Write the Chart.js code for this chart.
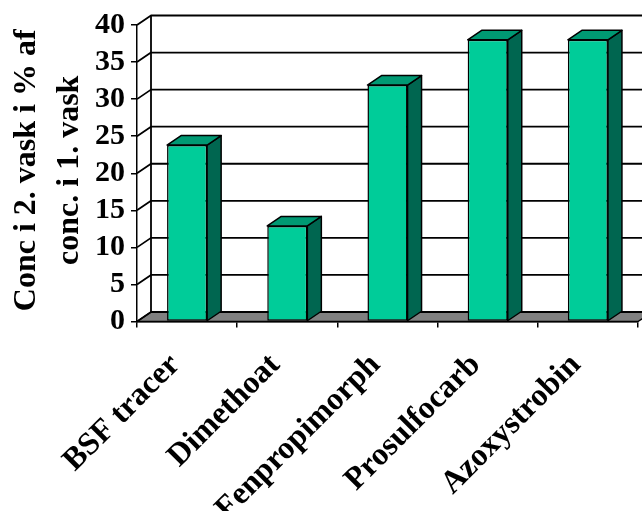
<!DOCTYPE html>
<html>
<head>
<meta charset="utf-8">
<script src="https://cdn.jsdelivr.net/npm/chart.js@4.4.1/dist/chart.umd.min.js"></script>
<style>
  html, body { margin: 0; padding: 0; background: #fff; }
  canvas { display: block; }
</style>
</head>
<body>
<canvas id="chart" width="642" height="511"></canvas>
<script>
// Data
const categories = ['BSF tracer', 'Dimethoat', 'Fenpropimorph', 'Prosulfocarb', 'Azoxystrobin'];
const ratioValues = [23.8, 12.9, 31.9, 38.0, 38.0];
const yTickValues = [0, 5, 10, 15, 20, 25, 30, 35, 40];
const yTitleLines = ['Conc i 2. vask i % af', 'conc. i 1. vask'];

// Styling
const SERIF = '"Liberation Serif", "Times New Roman", serif';
const DEPTH = { dx: 14, dy: -9.5 };
const FACE = '#00cc99';
const TOP_FACE = '#009973';
const SIDE_FACE = '#006650';
const FLOOR = '#808080';
const LINE = '#000';

// Draws the 3D box (back wall, side wall, floor) and the extra bar faces
const box3d = {
  id: 'box3d',
  beforeDraw(chart) {
    const { ctx, chartArea: a, scales: { y } } = chart;
    const { dx, dy } = DEPTH;
    ctx.save();
    ctx.lineJoin = 'round';

    // floor
    ctx.fillStyle = FLOOR;
    ctx.beginPath();
    ctx.moveTo(a.left, a.bottom);
    ctx.lineTo(a.right, a.bottom);
    ctx.lineTo(a.right + dx, a.bottom + dy);
    ctx.lineTo(a.left + dx, a.bottom + dy);
    ctx.closePath();
    ctx.fill();
    ctx.strokeStyle = LINE;
    ctx.lineWidth = 1.5;
    ctx.stroke();

    // back-wall gridlines and side-wall diagonals
    ctx.lineWidth = 1.8;
    y.ticks.forEach(t => {
      const py = y.getPixelForValue(t.value);
      ctx.beginPath();
      ctx.moveTo(a.left, py);
      ctx.lineTo(a.left + dx, py + dy);
      ctx.lineTo(a.right + dx, py + dy);
      ctx.stroke();
    });

    // back-wall left edge
    ctx.beginPath();
    ctx.moveTo(a.left + dx, a.top + dy);
    ctx.lineTo(a.left + dx, a.bottom + dy);
    ctx.stroke();
    ctx.restore();
  },
  afterDatasetsDraw(chart) {
    const { ctx } = chart;
    const { dx, dy } = DEPTH;
    ctx.save();
    ctx.lineJoin = 'round';
    ctx.strokeStyle = LINE;
    ctx.lineWidth = 1.5;
    chart.getDatasetMeta(0).data.forEach(bar => {
      const { x, y, base, width } = bar.getProps(['x', 'y', 'base', 'width'], true);
      const l = x - width / 2, r = x + width / 2;
      // side face
      ctx.fillStyle = SIDE_FACE;
      ctx.beginPath();
      ctx.moveTo(r, y);
      ctx.lineTo(r + dx, y + dy);
      ctx.lineTo(r + dx, base + dy);
      ctx.lineTo(r, base);
      ctx.closePath();
      ctx.fill();
      ctx.stroke();
      // top face
      ctx.fillStyle = TOP_FACE;
      ctx.beginPath();
      ctx.moveTo(l, y);
      ctx.lineTo(l + dx, y + dy);
      ctx.lineTo(r + dx, y + dy);
      ctx.lineTo(r, y);
      ctx.closePath();
      ctx.fill();
      ctx.stroke();
    });
    ctx.restore();
  },
  afterDraw(chart) {
    const { ctx, chartArea: a } = chart;
    const cy = (a.top + a.bottom) / 2 - 3;
    ctx.save();
    ctx.fillStyle = '#000';
    ctx.font = 'bold 32px ' + SERIF;
    ctx.textAlign = 'center';
    ctx.textBaseline = 'alphabetic';
    const baselines = [34.5, 78];
    yTitleLines.forEach((line, i) => {
      ctx.save();
      ctx.translate(baselines[i], cy);
      ctx.rotate(-Math.PI / 2);
      ctx.fillText(line, 0, 0);
      ctx.restore();
    });
    ctx.restore();
  }
};

new Chart(document.getElementById('chart'), {
  type: 'bar',
  data: {
    labels: categories,
    datasets: [{
      data: ratioValues,
      backgroundColor: FACE,
      borderColor: LINE,
      borderWidth: 1.5,
      borderSkipped: false,
      barPercentage: 0.4,
      categoryPercentage: 1.0
    }]
  },
  options: {
    responsive: false,
    animation: false,
    devicePixelRatio: 1,
    layout: { padding: { top: 25, right: 4, left: 0, bottom: 0 } },
    plugins: { legend: { display: false }, tooltip: { enabled: false } },
    scales: {
      x: {
        offset: true,
        grid: { display: true, drawOnChartArea: false, drawTicks: true, tickLength: 6, color: LINE, lineWidth: 1.5, offset: true },
        border: { display: true, color: LINE, width: 1.5 },
        ticks: {
          color: '#000',
          font: { family: SERIF, size: 32, weight: 'bold' },
          minRotation: 45, maxRotation: 45,
          autoSkip: false,
          padding: 19,
          labelOffset: -12
        },
        afterFit(scale) { scale.height = 189.5; }
      },
      y: {
        min: 0, max: 40,
        afterBuildTicks(scale) { scale.ticks = yTickValues.map(v => ({ value: v })); },
        grid: { drawOnChartArea: false, drawTicks: true, tickLength: 6, color: LINE, lineWidth: 1.5 },
        border: { display: true, color: LINE, width: 1.5 },
        ticks: { color: '#000', font: { family: SERIF, size: 30, weight: 'bold' }, padding: 6, autoSkip: false },
        afterFit(scale) { scale.width = 137; }
      }
    }
  },
  plugins: [box3d]
});
</script>
</body>
</html>
